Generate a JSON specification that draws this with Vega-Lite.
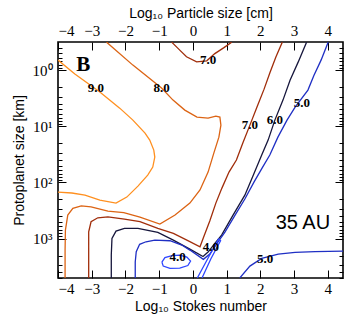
{
  "$schema": "https://vega.github.io/schema/vega-lite/v6.json",
  "width": 285,
  "height": 236,
  "autosize": "none",
  "padding": {"left": 58, "top": 42, "right": 14, "bottom": 40},
  "background": "white",
  "config": {
    "view": {"stroke": "black", "strokeWidth": 1.6},
    "axis": {
      "domain": false, "grid": false, "tickColor": "black", "tickWidth": 1,
      "labelFont": "Liberation Serif", "labelFontSize": 15, "labelColor": "black",
      "titleFont": "Liberation Sans", "titleFontSize": 14, "titleFontWeight": "normal", "titleColor": "black"
    }
  },
  "datasets": {
    "contours": [
      {"seg":"9a","level":"9.0","i":1,"st":-4.0,"size":0.664},
      {"seg":"9a","level":"9.0","i":2,"st":-3.50,"size":1.178},
      {"seg":"9a","level":"9.0","i":3,"st":-2.76,"size":2.46},
      {"seg":"9a","level":"9.0","i":4,"st":-2.17,"size":4.75},
      {"seg":"9a","level":"9.0","i":5,"st":-1.78,"size":7.76},
      {"seg":"9a","level":"9.0","i":6,"st":-1.42,"size":13.2},
      {"seg":"9a","level":"9.0","i":7,"st":-1.28,"size":17.6},
      {"seg":"9a","level":"9.0","i":8,"st":-1.16,"size":26.5},
      {"seg":"9a","level":"9.0","i":9,"st":-1.13,"size":35.3},
      {"seg":"9a","level":"9.0","i":10,"st":-1.19,"size":53.2},
      {"seg":"9a","level":"9.0","i":11,"st":-1.34,"size":73.8},
      {"seg":"9a","level":"9.0","i":12,"st":-1.63,"size":116},
      {"seg":"9a","level":"9.0","i":13,"st":-1.96,"size":182},
      {"seg":"9a","level":"9.0","i":14,"st":-2.28,"size":233},
      {"seg":"9a","level":"9.0","i":15,"st":-2.76,"size":206},
      {"seg":"9a","level":"9.0","i":16,"st":-3.20,"size":168},
      {"seg":"9a","level":"9.0","i":17,"st":-3.59,"size":154},
      {"seg":"9a","level":"9.0","i":18,"st":-4.0,"size":148},

      {"seg":"8a","level":"8.0","i":1,"st":-2.56,"size":0.318},
      {"seg":"8a","level":"8.0","i":2,"st":-1.78,"size":0.815},
      {"seg":"8a","level":"8.0","i":3,"st":-0.93,"size":2.09},
      {"seg":"8a","level":"8.0","i":4,"st":-0.59,"size":3.42},
      {"seg":"8a","level":"8.0","i":5,"st":-0.24,"size":5.15},
      {"seg":"8a","level":"8.0","i":6,"st":0.12,"size":6.86},
      {"seg":"8a","level":"8.0","i":7,"st":0.45,"size":7.15},
      {"seg":"8a","level":"8.0","i":8,"st":0.68,"size":6.59},
      {"seg":"8a","level":"8.0","i":9,"st":0.80,"size":6.86},
      {"seg":"8a","level":"8.0","i":10,"st":0.83,"size":9.53},
      {"seg":"8a","level":"8.0","i":11,"st":0.77,"size":15.6},
      {"seg":"8a","level":"8.0","i":12,"st":0.62,"size":30.0},
      {"seg":"8a","level":"8.0","i":13,"st":0.45,"size":65.3},
      {"seg":"8a","level":"8.0","i":14,"st":0.21,"size":136},
      {"seg":"8a","level":"8.0","i":15,"st":-0.09,"size":233},
      {"seg":"8a","level":"8.0","i":16,"st":-0.53,"size":380},
      {"seg":"8a","level":"8.0","i":17,"st":-0.98,"size":550},
      {"seg":"8a","level":"8.0","i":18,"st":-1.57,"size":413},
      {"seg":"8a","level":"8.0","i":19,"st":-2.05,"size":343},
      {"seg":"8a","level":"8.0","i":20,"st":-2.52,"size":323},
      {"seg":"8a","level":"8.0","i":21,"st":-3.02,"size":271},
      {"seg":"8a","level":"8.0","i":22,"st":-3.31,"size":260},
      {"seg":"8a","level":"8.0","i":23,"st":-3.56,"size":289},
      {"seg":"8a","level":"8.0","i":24,"st":-3.71,"size":380},
      {"seg":"8a","level":"8.0","i":25,"st":-3.78,"size":703},
      {"seg":"8a","level":"8.0","i":26,"st":-3.79,"size":1596},
      {"seg":"8a","level":"8.0","i":27,"st":-3.79,"size":5000},

      {"seg":"7a","level":"7.0","i":1,"st":-0.63,"size":0.318},
      {"seg":"7a","level":"7.0","i":2,"st":-0.39,"size":0.441},
      {"seg":"7a","level":"7.0","i":3,"st":-0.19,"size":0.580},
      {"seg":"7a","level":"7.0","i":4,"st":0.11,"size":0.711},
      {"seg":"7a","level":"7.0","i":5,"st":0.41,"size":0.684},
      {"seg":"7a","level":"7.0","i":6,"st":0.65,"size":0.508},
      {"seg":"7a","level":"7.0","i":7,"st":0.92,"size":0.398},
      {"seg":"7a","level":"7.0","i":8,"st":1.15,"size":0.318},

      {"seg":"7b","level":"7.0","i":1,"st":-3.09,"size":5000},
      {"seg":"7b","level":"7.0","i":2,"st":-3.09,"size":1596},
      {"seg":"7b","level":"7.0","i":3,"st":-3.09,"size":754},
      {"seg":"7b","level":"7.0","i":4,"st":-3.02,"size":500},
      {"seg":"7b","level":"7.0","i":5,"st":-2.82,"size":425},
      {"seg":"7b","level":"7.0","i":6,"st":-2.52,"size":408},
      {"seg":"7b","level":"7.0","i":7,"st":-2.03,"size":448},
      {"seg":"7b","level":"7.0","i":8,"st":-1.57,"size":497},
      {"seg":"7b","level":"7.0","i":9,"st":-1.04,"size":656},
      {"seg":"7b","level":"7.0","i":10,"st":-0.58,"size":805},
      {"seg":"7b","level":"7.0","i":11,"st":-0.15,"size":1081},
      {"seg":"7b","level":"7.0","i":12,"st":0.21,"size":1393},
      {"seg":"7b","level":"7.0","i":13,"st":0.33,"size":899},
      {"seg":"7b","level":"7.0","i":14,"st":0.50,"size":486},
      {"seg":"7b","level":"7.0","i":15,"st":0.68,"size":233},
      {"seg":"7b","level":"7.0","i":16,"st":0.86,"size":126},
      {"seg":"7b","level":"7.0","i":17,"st":1.07,"size":65.3},
      {"seg":"7b","level":"7.0","i":18,"st":1.29,"size":39.9},
      {"seg":"7b","level":"7.0","i":19,"st":1.48,"size":19.9},
      {"seg":"7b","level":"7.0","i":20,"st":1.69,"size":9.53},
      {"seg":"7b","level":"7.0","i":21,"st":1.90,"size":4.55},
      {"seg":"7b","level":"7.0","i":22,"st":2.11,"size":2.18},
      {"seg":"7b","level":"7.0","i":23,"st":2.28,"size":1.13},
      {"seg":"7b","level":"7.0","i":24,"st":2.46,"size":0.587},
      {"seg":"7b","level":"7.0","i":25,"st":2.65,"size":0.318},

      {"seg":"6a","level":"6.0","i":1,"st":-2.42,"size":5000},
      {"seg":"6a","level":"6.0","i":2,"st":-2.42,"size":1959},
      {"seg":"6a","level":"6.0","i":3,"st":-2.40,"size":988},
      {"seg":"6a","level":"6.0","i":4,"st":-2.28,"size":733},
      {"seg":"6a","level":"6.0","i":5,"st":-2.03,"size":656},
      {"seg":"6a","level":"6.0","i":6,"st":-1.63,"size":656},
      {"seg":"6a","level":"6.0","i":7,"st":-1.04,"size":773},
      {"seg":"6a","level":"6.0","i":8,"st":-0.58,"size":1059},
      {"seg":"6a","level":"6.0","i":9,"st":-0.09,"size":1531},
      {"seg":"6a","level":"6.0","i":10,"st":0.30,"size":2083},
      {"seg":"6a","level":"6.0","i":11,"st":0.45,"size":1730},
      {"seg":"6a","level":"6.0","i":12,"st":0.65,"size":1213},
      {"seg":"6a","level":"6.0","i":13,"st":0.85,"size":863},
      {"seg":"6a","level":"6.0","i":14,"st":1.19,"size":380},
      {"seg":"6a","level":"6.0","i":15,"st":1.54,"size":168},
      {"seg":"6a","level":"6.0","i":16,"st":1.78,"size":76.9},
      {"seg":"6a","level":"6.0","i":17,"st":2.04,"size":32.5},
      {"seg":"6a","level":"6.0","i":18,"st":2.23,"size":17.6},
      {"seg":"6a","level":"6.0","i":19,"st":2.43,"size":7.76},
      {"seg":"6a","level":"6.0","i":20,"st":2.67,"size":3.42},
      {"seg":"6a","level":"6.0","i":21,"st":2.88,"size":1.51},
      {"seg":"6a","level":"6.0","i":22,"st":3.12,"size":0.721},
      {"seg":"6a","level":"6.0","i":23,"st":3.37,"size":0.318},

      {"seg":"5a","level":"5.0","i":1,"st":-1.71,"size":5000},
      {"seg":"5a","level":"5.0","i":2,"st":-1.71,"size":2606},
      {"seg":"5a","level":"5.0","i":3,"st":-1.68,"size":1710},
      {"seg":"5a","level":"5.0","i":4,"st":-1.58,"size":1262},
      {"seg":"5a","level":"5.0","i":5,"st":-1.39,"size":1135},
      {"seg":"5a","level":"5.0","i":6,"st":-1.13,"size":1059},
      {"seg":"5a","level":"5.0","i":7,"st":-0.68,"size":1089},
      {"seg":"5a","level":"5.0","i":8,"st":-0.33,"size":1300},
      {"seg":"5a","level":"5.0","i":9,"st":-0.09,"size":1596},
      {"seg":"5a","level":"5.0","i":10,"st":0.31,"size":2335},
      {"seg":"5a","level":"5.0","i":11,"st":0.50,"size":1879},
      {"seg":"5a","level":"5.0","i":12,"st":0.74,"size":1148},
      {"seg":"5a","level":"5.0","i":13,"st":0.95,"size":763},
      {"seg":"5a","level":"5.0","i":14,"st":1.25,"size":380},
      {"seg":"5a","level":"5.0","i":15,"st":1.54,"size":197},
      {"seg":"5a","level":"5.0","i":16,"st":1.81,"size":98.4},
      {"seg":"5a","level":"5.0","i":17,"st":2.05,"size":55.5},
      {"seg":"5a","level":"5.0","i":18,"st":2.28,"size":32.5},
      {"seg":"5a","level":"5.0","i":19,"st":2.52,"size":15.6},
      {"seg":"5a","level":"5.0","i":20,"st":2.79,"size":7.76},
      {"seg":"5a","level":"5.0","i":21,"st":3.03,"size":4.55},
      {"seg":"5a","level":"5.0","i":22,"st":3.41,"size":2.27},
      {"seg":"5a","level":"5.0","i":23,"st":3.59,"size":1.23},
      {"seg":"5a","level":"5.0","i":24,"st":3.80,"size":0.664},
      {"seg":"5a","level":"5.0","i":25,"st":4.01,"size":0.318},

      {"seg":"5b","level":"5.0","i":1,"st":1.39,"size":5000},
      {"seg":"5b","level":"5.0","i":2,"st":1.69,"size":3076},
      {"seg":"5b","level":"5.0","i":3,"st":2.04,"size":2244},
      {"seg":"5b","level":"5.0","i":4,"st":2.53,"size":1879},
      {"seg":"5b","level":"5.0","i":5,"st":3.03,"size":1754},
      {"seg":"5b","level":"5.0","i":6,"st":3.62,"size":1698},
      {"seg":"5b","level":"5.0","i":7,"st":4.46,"size":1663},

      {"seg":"4a","level":"4.0","i":1,"st":-0.92,"size":2608},
      {"seg":"4a","level":"4.0","i":2,"st":-0.83,"size":2169},
      {"seg":"4a","level":"4.0","i":3,"st":-0.62,"size":2000},
      {"seg":"4a","level":"4.0","i":4,"st":-0.39,"size":1959},
      {"seg":"4a","level":"4.0","i":5,"st":-0.18,"size":2125},
      {"seg":"4a","level":"4.0","i":6,"st":-0.07,"size":2505},
      {"seg":"4a","level":"4.0","i":7,"st":-0.15,"size":3012},
      {"seg":"4a","level":"4.0","i":8,"st":-0.39,"size":3334},
      {"seg":"4a","level":"4.0","i":9,"st":-0.68,"size":3375},
      {"seg":"4a","level":"4.0","i":10,"st":-0.88,"size":3076},
      {"seg":"4a","level":"4.0","i":11,"st":-0.92,"size":2608},

      {"seg":"4b","level":"4.0","i":1,"st":0.13,"size":5000},
      {"seg":"4b","level":"4.0","i":2,"st":0.45,"size":2213},
      {"seg":"4b","level":"4.0","i":3,"st":0.76,"size":1016},
      {"seg":"4b","level":"4.0","i":4,"st":0.82,"size":1081},
      {"seg":"4b","level":"4.0","i":5,"st":0.53,"size":2307},
      {"seg":"4b","level":"4.0","i":6,"st":0.27,"size":5000}
    ],
    "labels": [
      {"text":"9.0","st":-2.88,"size":2.09},
      {"text":"8.0","st":-0.93,"size":2.09},
      {"text":"7.0","st":0.45,"size":0.664},
      {"text":"7.0","st":1.69,"size":9.53},
      {"text":"6.0","st":2.43,"size":7.76},
      {"text":"5.0","st":3.23,"size":3.87},
      {"text":"4.0","st":-0.45,"size":2125},
      {"text":"4.0","st":0.53,"size":1410},
      {"text":"5.0","st":2.14,"size":2307}
    ],
    "notes": [
      {"text":"B","st":-3.25,"size":0.815},
      {"text":"35 AU","st":3.26,"size":528}
    ]
  },
  "resolve": {"axis": {"x": "independent", "y": "independent"}},
  "layer": [
    {
      "data": {"name": "contours"},
      "mark": {"type": "line", "strokeWidth": 1.3, "clip": true},
      "encoding": {
        "x": {"field": "st", "type": "quantitative",
              "scale": {"domain": [-4, 4.45], "nice": false, "zero": false},
              "axis": {"orient": "bottom", "values": [-4,-3,-2,-1,0,1,2,3,4], "title": "Log₁₀ Stokes number",
                       "tickSize": -8, "labelPadding": 11, "titlePadding": 3}},
        "y": {"field": "size", "type": "quantitative",
              "scale": {"type": "log", "domain": [0.316, 5012], "reverse": true, "nice": false},
              "axis": {"orient": "left", "values": [1, 10, 100, 1000], "title": "Protoplanet size [km]",
                       "labelExpr": "datum.value < 5 ? '10⁰' : datum.value < 50 ? '10¹' : datum.value < 500 ? '10²' : '10³'",
                       "tickSize": -8, "labelPadding": 14, "titlePadding": 6}},
        "color": {"field": "level", "type": "nominal", "legend": null,
                  "scale": {"domain": ["9.0","8.0","7.0","6.0","5.0","4.0"],
                            "range": ["#ff9020","#dc6414","#a02d0a","#16163c","#1f2fc4","#2d45ff"]}},
        "detail": {"field": "seg"},
        "order": {"field": "i", "type": "quantitative"}
      }
    },
    {
      "data": {"name": "labels"},
      "mark": {"type": "text", "font": "Liberation Serif", "fontWeight": "bold", "fontSize": 13, "color": "black"},
      "encoding": {
        "x": {"field": "st", "type": "quantitative", "axis": null},
        "y": {"field": "size", "type": "quantitative", "axis": null},
        "text": {"field": "text"}
      }
    },
    {
      "data": {"name": "notes"},
      "transform": [{"filter": "datum.text == 'B'"}],
      "mark": {"type": "text", "font": "Liberation Serif", "fontWeight": "bold", "fontSize": 21, "color": "black"},
      "encoding": {
        "x": {"field": "st", "type": "quantitative", "axis": null},
        "y": {"field": "size", "type": "quantitative", "axis": null},
        "text": {"field": "text"}
      }
    },
    {
      "data": {"name": "notes"},
      "transform": [{"filter": "datum.text != 'B'"}],
      "mark": {"type": "text", "font": "Liberation Sans", "fontSize": 20, "color": "black"},
      "encoding": {
        "x": {"field": "st", "type": "quantitative", "axis": null},
        "y": {"field": "size", "type": "quantitative", "axis": null},
        "text": {"field": "text"}
      }
    },
    {
      "data": {"name": "notes"},
      "mark": {"type": "point", "opacity": 0},
      "encoding": {
        "x": {"field": "st", "type": "quantitative",
              "axis": {"orient": "top", "values": [-4,-3,-2,-1,0,1,2,3,4], "title": "Log₁₀ Particle size [cm]",
                       "tickSize": -8, "labelPadding": 12, "titlePadding": 3}},
        "y": {"field": "size", "type": "quantitative",
              "axis": {"orient": "left", "values": [0.4,0.5,0.6,0.7,0.8,0.9,2,3,4,5,6,7,8,9,20,30,40,50,60,70,80,90,200,300,400,500,600,700,800,900,2000,3000,4000,5000],
                       "labels": false, "title": null, "tickSize": -4}}
      }
    },
    {
      "data": {"name": "notes"},
      "mark": {"type": "point", "opacity": 0},
      "encoding": {
        "x": {"field": "st", "type": "quantitative", "axis": null},
        "y": {"field": "size", "type": "quantitative",
              "axis": {"orient": "right", "values": [1, 10, 100, 1000], "labels": false, "title": null, "tickSize": -8}}
      }
    },
    {
      "data": {"name": "notes"},
      "mark": {"type": "point", "opacity": 0},
      "encoding": {
        "x": {"field": "st", "type": "quantitative", "axis": null},
        "y": {"field": "size", "type": "quantitative",
              "axis": {"orient": "right", "values": [0.4,0.5,0.6,0.7,0.8,0.9,2,3,4,5,6,7,8,9,20,30,40,50,60,70,80,90,200,300,400,500,600,700,800,900,2000,3000,4000,5000],
                       "labels": false, "title": null, "tickSize": -4}}
      }
    }
  ]
}
